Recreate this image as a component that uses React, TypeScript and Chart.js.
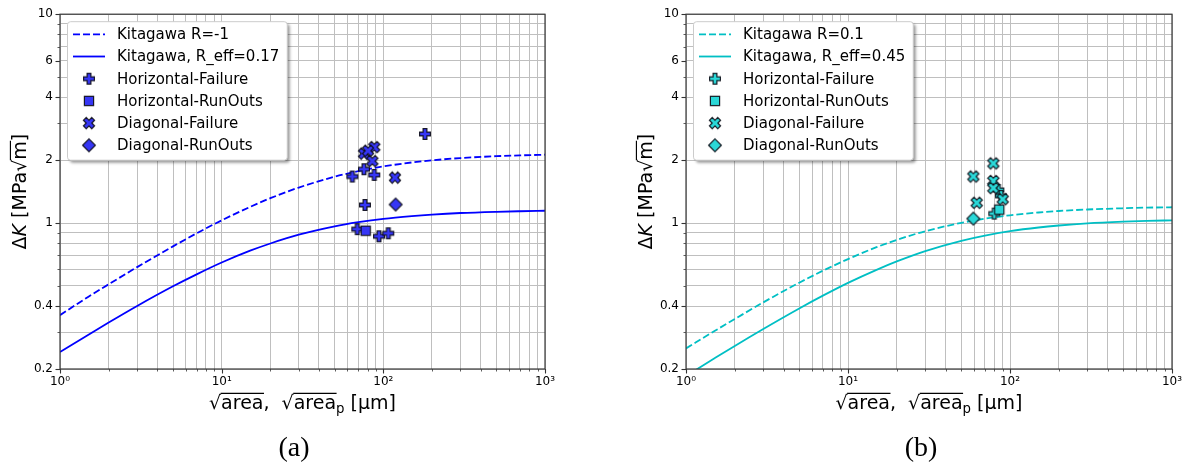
import React, { useEffect, useRef } from "react";
import { Chart, registerables } from "chart.js";

Chart.register(...registerables);

const FONT = '"DejaVu Sans", sans-serif';

// √area sample positions (µm) for the Kitagawa curves
const curveArea = [1, 1.5, 2, 3, 5, 7, 10, 15, 20, 30, 50, 70, 100, 150, 200, 300, 500, 700, 1000];

// Panel (a): ΔK threshold curves (MPa√m)
const aKitagawaRm1 = [0.362, 0.444, 0.509, 0.615, 0.773, 0.893, 1.03, 1.195, 1.315, 1.479, 1.666, 1.772, 1.866, 1.95, 1.997, 2.047, 2.09, 2.109, 2.124];
const aKitagawaReff = [0.241, 0.292, 0.334, 0.401, 0.498, 0.568, 0.647, 0.737, 0.798, 0.879, 0.964, 1.009, 1.048, 1.08, 1.098, 1.117, 1.132, 1.139, 1.145];

// Panel (a): specimens
const aHorizFailArea = [181, 75.9, 64.3, 87.9, 77, 69, 94, 107.3];
const aHorizFailDK = [2.67, 1.81, 1.67, 1.7, 1.22, 0.935, 0.864, 0.893];
const aHorizRunArea = [77.8];
const aHorizRunDK = [0.919];
const aDiagFailArea = [87.9, 75.9, 80.4, 85.5, 118];
const aDiagFailDK = [2.31, 2.15, 2.22, 1.98, 1.65];
const aDiagRunArea = [119.2];
const aDiagRunDK = [1.226];

// Panel (b): ΔK threshold curves (MPa√m)
const bKitagawaR01 = [0.251, 0.304, 0.347, 0.417, 0.518, 0.591, 0.672, 0.766, 0.83, 0.914, 1.002, 1.049, 1.089, 1.123, 1.142, 1.161, 1.177, 1.185, 1.19];
const bKitagawaReff = [0.185, 0.225, 0.258, 0.311, 0.39, 0.449, 0.517, 0.597, 0.655, 0.734, 0.822, 0.871, 0.914, 0.952, 0.973, 0.996, 1.015, 1.024, 1.03];

// Panel (b): specimens
const bHorizFailArea = [84.7, 80, 88];
const bHorizFailDK = [1.44, 1.11, 1.35];
const bHorizRunArea = [85.9];
const bHorizRunDK = [1.16];
const bDiagFailArea = [78.9, 59.4, 78.9, 78.9, 90.2, 62.3];
const bDiagFailDK = [1.93, 1.67, 1.59, 1.47, 1.3, 1.25];
const bDiagRunArea = [59.4];
const bDiagRunDK = [1.05];

// Axis ticks
const xTickValues = [1, 2, 3, 4, 5, 6, 7, 8, 9, 10, 20, 30, 40, 50, 60, 70, 80, 90, 100, 200, 300, 400, 500, 600, 700, 800, 900, 1000];
const xLabelledTicks = [1, 10, 100, 1000];
const xTickLabels = ["10⁰", "10¹", "10²", "10³"];
const yTickValues = [0.2, 0.3, 0.4, 0.5, 0.6, 0.7, 0.8, 0.9, 1, 2, 3, 4, 5, 6, 7, 8, 9, 10];
const yLabelledTicks = [0.2, 0.4, 1, 2, 4, 6, 10];
const yTickLabels = ["0.2", "0.4", "1", "2", "4", "6", "10"];

const seriesNames = ["Horizontal-Failure", "Horizontal-RunOuts", "Diagonal-Failure", "Diagonal-RunOuts"];

const CANVAS_H = 470;
const PLOT_TOP = 8;
const PLOT_BOTTOM = 369;

type MarkerKind = "plus" | "x" | "square" | "diamond";

interface PanelSpec {
  left: number;
  width: number;
  axisWidth: number;
  plotRight: number;
  lineColor: string;
  markerFill: string;
  dashed: number[];
  solid: number[];
  dashedLabel: string;
  solidLabel: string;
  points: { area: number[]; dk: number[]; kind: MarkerKind }[];
  caption: string;
  captionX: number;
}

const panelA: PanelSpec = {
  left: 0,
  width: 594,
  axisWidth: 60,
  plotRight: 545,
  lineColor: "#0000ff",
  markerFill: "#3636f5",
  dashed: aKitagawaRm1,
  solid: aKitagawaReff,
  dashedLabel: "Kitagawa R=-1",
  solidLabel: "Kitagawa, R_eff=0.17",
  points: [
    { area: aHorizFailArea, dk: aHorizFailDK, kind: "plus" },
    { area: aHorizRunArea, dk: aHorizRunDK, kind: "square" },
    { area: aDiagFailArea, dk: aDiagFailDK, kind: "x" },
    { area: aDiagRunArea, dk: aDiagRunDK, kind: "diamond" },
  ],
  caption: "(a)",
  captionX: 294,
};

const panelB: PanelSpec = {
  left: 594,
  width: 595,
  axisWidth: 92,
  plotRight: 578,
  lineColor: "#00bfc4",
  markerFill: "#2ad8d8",
  dashed: bKitagawaR01,
  solid: bKitagawaReff,
  dashedLabel: "Kitagawa R=0.1",
  solidLabel: "Kitagawa, R_eff=0.45",
  points: [
    { area: bHorizFailArea, dk: bHorizFailDK, kind: "plus" },
    { area: bHorizRunArea, dk: bHorizRunDK, kind: "square" },
    { area: bDiagFailArea, dk: bDiagFailDK, kind: "x" },
    { area: bDiagRunArea, dk: bDiagRunDK, kind: "diamond" },
  ],
  caption: "(b)",
  captionX: 327,
};

function zip(xs: number[], ys: number[]) {
  return xs.map((x, i) => ({ x, y: ys[i] }));
}

function labelFor(values: number[], labels: string[], v: number) {
  const i = values.findIndex((t) => Math.abs(t - v) < 1e-9 * Math.max(1, t));
  return i >= 0 ? labels[i] : "";
}

function makeMarker(kind: MarkerKind, fill: string): HTMLCanvasElement {
  const c = document.createElement("canvas");
  c.width = 18;
  c.height = 18;
  const g = c.getContext("2d")!;
  g.translate(9, 9);
  g.beginPath();
  if (kind === "plus" || kind === "x") {
    const h = kind === "plus" ? 5.4 : 5.9;
    const t = kind === "plus" ? 1.9 : 2.0;
    if (kind === "x") g.rotate(Math.PI / 4);
    const pts = [
      [-t, -h], [t, -h], [t, -t], [h, -t], [h, t], [t, t],
      [t, h], [-t, h], [-t, t], [-h, t], [-h, -t], [-t, -t],
    ];
    pts.forEach(([px, py], i) => (i ? g.lineTo(px, py) : g.moveTo(px, py)));
    g.closePath();
  } else if (kind === "square") {
    g.rect(-4.6, -4.6, 9.2, 9.2);
  } else {
    g.moveTo(0, -6.4);
    g.lineTo(6.4, 0);
    g.lineTo(0, 6.4);
    g.lineTo(-6.4, 0);
    g.closePath();
  }
  g.fillStyle = fill;
  g.fill();
  g.lineJoin = "miter";
  g.lineWidth = 1.2;
  g.strokeStyle = "rgba(10,10,20,0.9)";
  g.stroke();
  return c;
}

interface Seg {
  t: string;
  italic?: boolean;
  over?: boolean;
  sub?: boolean;
}

function drawRich(ctx: CanvasRenderingContext2D, segs: Seg[], cx: number, baseline: number, fs: number) {
  const fontOf = (s: Seg) => `${s.italic ? "italic " : ""}${s.sub ? fs * 0.7 : fs}px ${FONT}`;
  const widths = segs.map((s) => {
    ctx.font = fontOf(s);
    return ctx.measureText(s.t).width;
  });
  const total = widths.reduce((a, b) => a + b, 0);
  let x = cx - total / 2;
  ctx.textAlign = "left";
  ctx.textBaseline = "alphabetic";
  segs.forEach((s, i) => {
    ctx.font = fontOf(s);
    ctx.fillText(s.t, x, s.sub ? baseline + fs * 0.2 : baseline);
    if (s.over) {
      ctx.beginPath();
      ctx.lineWidth = fs * 0.06;
      ctx.moveTo(x - 0.5, baseline - fs * 0.82);
      ctx.lineTo(x + widths[i] + 0.5, baseline - fs * 0.82);
      ctx.stroke();
    }
    x += widths[i];
  });
}

function roundRectPath(ctx: CanvasRenderingContext2D, x: number, y: number, w: number, h: number, r: number) {
  ctx.beginPath();
  ctx.moveTo(x + r, y);
  ctx.lineTo(x + w - r, y);
  ctx.quadraticCurveTo(x + w, y, x + w, y + r);
  ctx.lineTo(x + w, y + h - r);
  ctx.quadraticCurveTo(x + w, y + h, x + w - r, y + h);
  ctx.lineTo(x + r, y + h);
  ctx.quadraticCurveTo(x, y + h, x, y + h - r);
  ctx.lineTo(x, y + r);
  ctx.quadraticCurveTo(x, y, x + r, y);
  ctx.closePath();
}

function decorPlugin(spec: PanelSpec, markers: HTMLCanvasElement[]) {
  return {
    id: "panelDecor",
    afterDraw(chart: any) {
      const ctx: CanvasRenderingContext2D = chart.ctx;
      const { left, right, top, bottom } = chart.chartArea;
      const xs = chart.scales.x;
      const ys = chart.scales.y;
      ctx.save();

      // tick marks
      ctx.strokeStyle = "#333";
      xTickValues.forEach((v) => {
        const major = xLabelledTicks.includes(v);
        const px = Math.round(xs.getPixelForValue(v)) + 0.5;
        ctx.lineWidth = major ? 1.1 : 0.8;
        ctx.beginPath();
        ctx.moveTo(px, bottom);
        ctx.lineTo(px, bottom + (major ? 4.5 : 2.5));
        ctx.stroke();
      });
      yTickValues.forEach((v) => {
        const major = yLabelledTicks.includes(v);
        const py = Math.round(ys.getPixelForValue(v)) + 0.5;
        ctx.lineWidth = major ? 1.1 : 0.8;
        ctx.beginPath();
        ctx.moveTo(left, py);
        ctx.lineTo(left - (major ? 4.5 : 2.5), py);
        ctx.stroke();
      });

      // frame
      ctx.strokeStyle = "#3a3a3a";
      ctx.lineWidth = 1.2;
      ctx.strokeRect(left, top, right - left, bottom - top);

      // legend
      const lfs = 15;
      const labels = [spec.dashedLabel, spec.solidLabel, ...seriesNames];
      ctx.font = `${lfs}px ${FONT}`;
      const textW = Math.max(...labels.map((l) => ctx.measureText(l).width));
      const bx = left + 7.5;
      const by = top + 7.5;
      const bw = 49.5 + textW + 8;
      const bh = 138.5;
      ctx.save();
      ctx.shadowColor = "rgba(0,0,0,0.4)";
      ctx.shadowBlur = 3;
      ctx.shadowOffsetX = 2.5;
      ctx.shadowOffsetY = 2.5;
      roundRectPath(ctx, bx, by, bw, bh, 3);
      ctx.fillStyle = "#ffffff";
      ctx.fill();
      ctx.restore();
      roundRectPath(ctx, bx, by, bw, bh, 3);
      ctx.strokeStyle = "#cccccc";
      ctx.lineWidth = 1;
      ctx.stroke();

      const lx0 = bx + 5.5;
      const lx1 = lx0 + 32;
      const mx = (lx0 + lx1) / 2;
      labels.forEach((label, i) => {
        const ry = by + 12.6 + i * 22.2;
        if (i < 2) {
          ctx.save();
          ctx.strokeStyle = spec.lineColor;
          ctx.lineWidth = 1.8;
          ctx.setLineDash(i === 0 ? [7, 3] : []);
          ctx.beginPath();
          ctx.moveTo(lx0, ry);
          ctx.lineTo(lx1, ry);
          ctx.stroke();
          ctx.restore();
        } else {
          const m = markers[i - 2];
          ctx.drawImage(m, mx - m.width / 2, ry - m.height / 2);
        }
        ctx.fillStyle = "#000";
        ctx.font = `${lfs}px ${FONT}`;
        ctx.textAlign = "left";
        ctx.textBaseline = "middle";
        ctx.fillText(label, bx + 49.5, ry + 1);
      });

      // axis titles
      ctx.fillStyle = "#000";
      ctx.strokeStyle = "#000";
      const tfs = 19;
      drawRich(
        ctx,
        [
          { t: "√" },
          { t: "area", over: true },
          { t: ",  " },
          { t: "√" },
          { t: "area", over: true },
          { t: "p", sub: true },
          { t: " [μm]" },
        ],
        (left + right) / 2,
        409,
        tfs
      );
      ctx.save();
      ctx.translate(left - 34, (top + bottom) / 2);
      ctx.rotate(-Math.PI / 2);
      drawRich(
        ctx,
        [{ t: "Δ" }, { t: "K", italic: true }, { t: " [MPa√" }, { t: "m", over: true }, { t: "]" }],
        0,
        0,
        tfs
      );
      ctx.restore();

      // caption
      ctx.font = `28px "Liberation Serif", "Times New Roman", serif`;
      ctx.textAlign = "center";
      ctx.textBaseline = "alphabetic";
      ctx.fillStyle = "#000";
      ctx.fillText(spec.caption, spec.captionX, 456);

      ctx.restore();
    },
  };
}

function Panel({ spec }: { spec: PanelSpec }) {
  const ref = useRef<HTMLCanvasElement>(null);

  useEffect(() => {
    const canvas = ref.current;
    if (!canvas) return;
    const kinds: MarkerKind[] = ["plus", "square", "x", "diamond"];
    const markers = kinds.map((k) => makeMarker(k, spec.markerFill));
    const markerFor = (k: MarkerKind) => markers[kinds.indexOf(k)];

    const lineBase = {
      showLine: true,
      borderColor: spec.lineColor,
      backgroundColor: spec.lineColor,
      borderWidth: 1.8,
      pointRadius: 0,
      fill: false,
      cubicInterpolationMode: "monotone" as const,
      clip: 0,
    };

    const pointSets = spec.points.map((p, i) => ({
      label: seriesNames[i],
      data: zip(p.area, p.dk),
      showLine: false,
      pointStyle: markerFor(p.kind),
      pointRadius: 5,
      order: 4 - i,
    }));

    const chart = new Chart(canvas, {
      type: "scatter",
      data: {
        datasets: [
          { ...lineBase, label: spec.dashedLabel, data: zip(curveArea, spec.dashed), borderDash: [7, 3], order: 6 },
          { ...lineBase, label: spec.solidLabel, data: zip(curveArea, spec.solid), order: 5 },
          ...pointSets,
        ] as any,
      },
      options: {
        responsive: false,
        animation: false,
        devicePixelRatio: 1,
        events: [],
        layout: {
          padding: { left: 0, top: PLOT_TOP, right: spec.width - spec.plotRight, bottom: 0 },
        },
        plugins: {
          legend: { display: false },
          tooltip: { enabled: false },
        },
        scales: {
          x: {
            type: "logarithmic",
            min: 1,
            max: 1000,
            afterBuildTicks: (s: any) => {
              s.ticks = xTickValues.map((value) => ({ value }));
            },
            afterFit: (s: any) => {
              s.height = CANVAS_H - PLOT_BOTTOM;
            },
            ticks: {
              autoSkip: false,
              maxRotation: 0,
              minRotation: 0,
              padding: 6,
              color: "#000",
              font: { family: FONT, size: 12 },
              callback: (v: any) => labelFor(xLabelledTicks, xTickLabels, Number(v)),
            },
            grid: { color: "#bfbfbf", lineWidth: 1, drawTicks: false },
            border: { display: false },
          },
          y: {
            type: "logarithmic",
            min: 0.2,
            max: 10,
            afterBuildTicks: (s: any) => {
              s.ticks = yTickValues.map((value) => ({ value }));
            },
            afterFit: (s: any) => {
              s.width = spec.axisWidth;
            },
            ticks: {
              autoSkip: false,
              padding: 7,
              color: "#000",
              font: { family: FONT, size: 12 },
              callback: (v: any) => labelFor(yLabelledTicks, yTickLabels, Number(v)),
            },
            grid: { color: "#bfbfbf", lineWidth: 1, drawTicks: false },
            border: { display: false },
          },
        },
      } as any,
      plugins: [decorPlugin(spec, markers)],
    });

    return () => chart.destroy();
  }, [spec]);

  return (
    <canvas
      ref={ref}
      width={spec.width}
      height={CANVAS_H}
      style={{ position: "absolute", left: spec.left, top: 0, width: spec.width, height: CANVAS_H }}
    />
  );
}

export default function App() {
  return (
    <div style={{ position: "absolute", left: 0, top: 0, width: 1189, height: CANVAS_H, background: "#ffffff" }}>
      <Panel spec={panelA} />
      <Panel spec={panelB} />
    </div>
  );
}
